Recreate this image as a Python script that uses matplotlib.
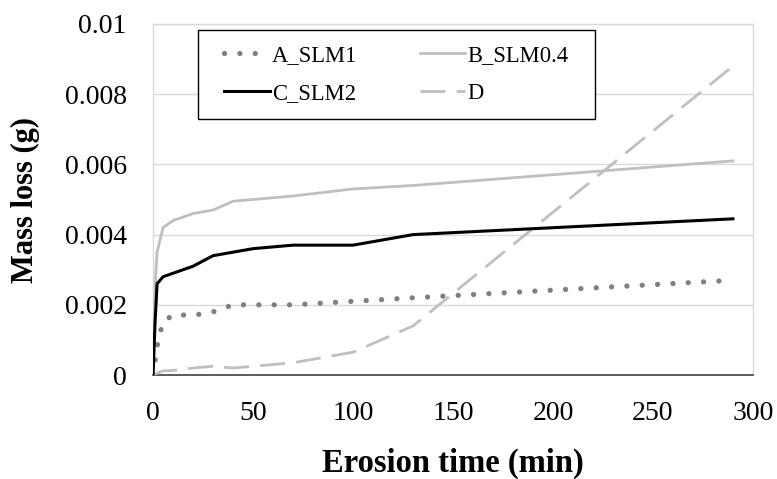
import matplotlib
matplotlib.use("Agg")
import matplotlib.pyplot as plt
from matplotlib.patches import Rectangle

plt.rcParams['font.family'] = ['Liberation Serif', 'DejaVu Serif']

# erosion time (min) and mass loss (g)
t_a = [0, 1, 2, 3, 5, 10, 20, 30, 40, 70, 100, 130, 290]
m_a = [0, 0.0004, 0.0008, 0.0011, 0.0015, 0.00172, 0.0017, 0.0018, 0.002, 0.002, 0.0021, 0.0022, 0.0027]

t_b = [0, 1, 2, 5, 10, 20, 30, 40, 70, 100, 130, 290]
m_b = [0, 0.0025, 0.0035, 0.0042, 0.0044, 0.0046, 0.0047, 0.00495, 0.0051, 0.0053, 0.0054, 0.0061]

t_c = [0, 1, 2, 5, 10, 20, 30, 40, 50, 70, 100, 130, 290]
m_c = [0, 0.0015, 0.0026, 0.0028, 0.0029, 0.0031, 0.0034, 0.0035, 0.0036, 0.0037, 0.0037, 0.0040, 0.00445]

t_d = [0, 5, 10, 20, 30, 40, 70, 100, 130, 290]
m_d = [0, 0.00012, 0.00013, 0.0002, 0.00025, 0.0002, 0.00035, 0.00065, 0.0014, 0.0088]

x_ticks = [0, 50, 100, 150, 200, 250, 300]
y_ticks = [0, 0.002, 0.004, 0.006, 0.008, 0.01]
y_labels = ['0', '0.002', '0.004', '0.006', '0.008', '0.01']

fig = plt.figure(figsize=(7.77, 4.79), dpi=100)
ax = fig.add_axes([0.197, 0.217, 0.772, 0.733])

la, = ax.plot(t_a, m_a, color='#7f7f7f', lw=3.8, linestyle=(0, (0.01, 2.9)),
              dash_capstyle='round', label='A_SLM1', zorder=3)
lb, = ax.plot(t_b, m_b, color='#bfbfbf', lw=2.0, label='B_SLM0.4', zorder=3)
lc, = ax.plot(t_c, m_c, color='black', lw=2.2, label='C_SLM2', zorder=4)
ld, = ax.plot(t_d, m_d, color='#bfbfbf', lw=2.0, linestyle=(0, (9, 4)), label='D', zorder=3)

ax.set_xlim(0, 300)
ax.set_ylim(0, 0.01)
ax.set_xticks(x_ticks)
ax.set_yticks(y_ticks)
ax.set_yticklabels(y_labels)
ax.tick_params(length=0, labelsize=20, colors='black')
ax.tick_params(axis='y', pad=19)
ax.tick_params(axis='x', pad=19)
ax.grid(axis='y', color='#d9d9d9', lw=1)
ax.set_axisbelow(True)

for s in ['top', 'right', 'left']:
    ax.spines[s].set_color('#d9d9d9')
    ax.spines[s].set_linewidth(1)
ax.spines['bottom'].set_color('#404040')
ax.spines['bottom'].set_linewidth(1.2)

ax.set_xlabel('Erosion time (min)', fontsize=23.5, fontweight='bold', labelpad=15)
ax.set_ylabel('Mass loss (g)', fontsize=22, fontweight='bold', labelpad=18)

# legend box drawn separately: wide side padding, tight top/bottom like Excel
ax.add_patch(Rectangle((0.075, 0.729), 0.662, 0.254, transform=ax.transAxes,
                       facecolor='white', edgecolor='black', lw=1.0, zorder=5))
leg = ax.legend([la, lc, lb, ld], ['A_SLM1', 'C_SLM2', 'B_SLM0.4', 'D'],
                ncol=2, loc='center', bbox_to_anchor=(0.406, 0.856), fontsize=16.3,
                frameon=False, handlelength=2.0, handletextpad=0.12, columnspacing=2.75,
                borderpad=0, labelspacing=0.72, borderaxespad=0)
leg.set_zorder(6)

fig.savefig('out.png', dpi=100)
